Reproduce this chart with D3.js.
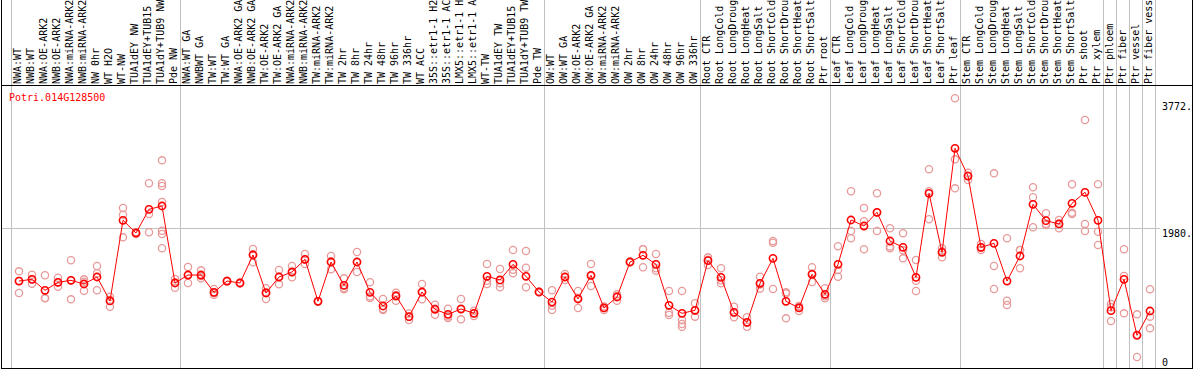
<!DOCTYPE html>
<html>
<head>
<meta charset="utf-8">
<script src="https://cdn.jsdelivr.net/npm/d3@7"></script>
<style>
  body { margin: 0; background: #fff; }
  svg text { font-family: "DejaVu Sans Mono", monospace; font-size: 10px; }
</style>
</head>
<body>
<div id="chart"></div>
<script>
// gene shown
const geneName = 'Potri.014G128500';

// sample labels (already cut to 14 chars like the original)
const labels = [
  'NWA:WT', 'NWB:WT', 'NWA:OE-ARK2', 'NWB:OE-ARK2', 'NWA:miRNA-ARK2', 'NWB:miRNA-ARK2',
  'NW 0hr', 'WT H2O', 'WT-NW', 'TUA1dEY NW', 'TUA1dEY+TUB15', 'TUA1dY+TUB9 NW', 'Pde NW',
  'NWA:WT GA', 'NWBWT GA', 'TW:WT', 'TW:WT GA', 'NWA:OE-ARK2 GA', 'NWB:OE-ARK2 GA',
  'TW:OE-ARK2', 'TW:OE-ARK2 GA', 'NWA:miRNA-ARK2', 'NWB:miRNA-ARK2', 'TW:miRNA-ARK2',
  'TW:miRNA-ARK2', 'TW 2hr', 'TW 8hr', 'TW 24hr', 'TW 48hr', 'TW 96hr', 'TW 336hr',
  'WT ACC', '35S::etr1-1 H2', '35S::etr1-1 AC', 'LMX5::etr1-1 H', 'LMX5::etr1-1 A',
  'WT-TW', 'TUA1dEY TW', 'TUA1dEY+TUB15', 'TUA1dY+TUB9 TW', 'Pde TW',
  'OW:WT', 'OW:WT GA', 'OW:OE-ARK2', 'OW:OE-ARK2 GA', 'OW:miRNA-ARK2', 'OW:miRNA-ARK2',
  'OW 2hr', 'OW 8hr', 'OW 24hr', 'OW 48hr', 'OW 96hr', 'OW 336hr',
  'Root CTR', 'Root LongCold', 'Root LongDroug', 'Root LongHeat', 'Root LongSalt',
  'Root ShortCold', 'Root ShortDrou', 'Root ShortHeat', 'Root ShortSalt', 'Ptr root',
  'Leaf CTR', 'Leaf LongCold', 'Leaf LongDroug', 'Leaf LongHeat', 'Leaf LongSalt',
  'Leaf ShortCold', 'Leaf ShortDrou', 'Leaf ShortHeat', 'Leaf ShortSalt', 'Ptr leaf',
  'Stem CTR', 'Stem LongCold', 'Stem LongDroug', 'Stem LongHeat', 'Stem LongSalt',
  'Stem ShortCold', 'Stem ShortDrou', 'Stem ShortHeat', 'Stem ShortSalt', 'Ptr shoot',
  'Ptr xylem', 'Ptr phloem', 'Ptr fiber', 'Ptr vessel', 'Ptr fiber vess'
];

// group separators (index of first sample after a break)
const groupBreaks = [0, 13, 41, 53, 63, 73, 84, 85, 86, 87, 88];

// mean expression per sample
const means = [
  1230, 1254, 1099, 1212, 1240, 1188, 1287, 948, 2089, 1909, 2244, 2291, 1202,
  1315, 1315, 1070, 1230, 1202, 1598, 1061, 1287, 1358, 1537, 943, 1499, 1169,
  1499, 1070, 877, 1018, 726, 1075, 830, 759, 834, 773, 1297, 1245, 1466, 1297, 1075,
  933, 1287, 976, 1311, 849, 1004, 1499, 1594, 1466, 887, 773, 816,
  1518, 1282, 787, 646, 1198, 1551, 943, 849, 1325, 1042,
  1466, 2093, 2008, 2202, 1796, 1707, 1282, 2471, 1636, 3107,
  2715, 1707, 1763, 1230, 1584, 2315, 2084, 2037, 2329, 2485, 2089,
  811, 1254, 462, 806
];

// replicate values per sample
const replicates = [
  [1367, 1230, 1061], [1320, 1193, 1254], [1311, 985, 990], [1277, 1150, 1212],
  [1523, 971, 1240], [1254, 1093, 1220], [1443, 1339, 1099], [1008, 867, 960],
  [2263, 2168, 1848], [1920, 1900, 1909], [2612, 2178, 1919],
  [2937, 2612, 2574, 2348, 1942, 1895, 1693], [1259, 1136, 1210],
  [1428, 1202, 1315], [1381, 1268, 1300], [1117, 1037, 1060], [1230, 1225, 1235],
  [1202, 1195, 1210], [1683, 1494, 1610], [1127, 976, 1070], [1386, 1183, 1290],
  [1443, 1282, 1350], [1612, 1471, 1530], [943, 940, 948], [1584, 1395, 1510],
  [1268, 1113, 1130], [1641, 1358, 1499], [1212, 990, 1010], [976, 820, 835],
  [1065, 952, 1030], [679, 726, 770], [1188, 971, 1070], [895, 754, 840],
  [839, 707, 730], [976, 688, 840], [735, 773, 810], [1471, 1235, 1188],
  [1400, 1141, 1200], [1669, 1339, 1390], [1655, 1419, 1141], [1075, 1070, 1080],
  [1099, 820, 880], [1329, 1287, 1245], [1089, 849, 990], [1471, 1160, 1300],
  [820, 849, 870], [952, 1042, 1015], [1499, 1495, 1505], [1679, 1424, 1680],
  [1612, 1376, 1410], [1089, 782, 750], [1089, 679, 622, 584], [915, 726, 810],
  [1565, 1457, 1530], [1410, 1198, 1240], [867, 717, 780], [717, 584, 640],
  [1291, 1122, 1180], [1796, 1772, 1117], [1070, 702, 1055], [877, 806, 865],
  [1424, 1216, 1335], [1127, 985, 1015], [1721, 1386, 1291], [2499, 1938, 1834],
  [2263, 2075, 1679], [2471, 1938, 2200], [1976, 1693, 1720], [1905, 1551, 1665],
  [1527, 1235, 1089], [2810, 2103, 2500], [1693, 1565, 1650], [3814, 2951, 2541],
  [2762, 2659, 2720], [1754, 1669, 1700], [2753, 1443, 1117], [1834, 952, 891],
  [1669, 1410, 1670], [2556, 2414, 1990], [2188, 2022, 2040], [2093, 1976, 2040],
  [2598, 2197, 2178], [3507, 2037, 1938], [2598, 1928, 1740], [905, 665, 860],
  [1679, 1301, 773], [759, 156, 470], [1113, 726, 561]
];

// y axis labels
const yTicks = [0, 1980, 3772];
const yTickLabels = ['0', '1980.', '3772.'];

function renderChart(container) {
    const width = 1194, height = 370;
    const headerBottom = 85, plotBottom = 368, rightEdge = 1192;

    const svg = d3.select(container)
        .append('svg')
        .attr('width', width)
        .attr('height', height);

    // one column per sample, 13px wide
    const x = d3.scaleLinear().domain([0, labels.length]).range([11, 11 + 13 * labels.length]);
    const cx = i => x(i) + 8;
    const y = d3.scaleLinear().domain([0, 1980]).range([plotBottom, 228]);

    // grey separators
    svg.selectAll('line.sep')
        .data(groupBreaks)
        .enter()
        .append('line')
        .attr('x1', d => x(d) + 0.5).attr('x2', d => x(d) + 0.5)
        .attr('y1', 0).attr('y2', plotBottom)
        .attr('stroke', '#c0c0c0');

    // horizontal grid at 1980
    svg.append('line')
        .attr('x1', 1).attr('x2', 1160)
        .attr('y1', Math.round(y(1980)) + 0.5).attr('y2', Math.round(y(1980)) + 0.5)
        .attr('stroke', '#c0c0c0');

    // frame
    svg.append('line').attr('x1', 1.5).attr('x2', 1.5).attr('y1', 0).attr('y2', plotBottom + 1).attr('stroke', '#000');
    svg.append('line').attr('x1', rightEdge + 0.5).attr('x2', rightEdge + 0.5).attr('y1', 0).attr('y2', plotBottom + 1).attr('stroke', '#000');
    svg.append('line').attr('x1', 1).attr('x2', rightEdge + 1).attr('y1', headerBottom + 0.5).attr('y2', headerBottom + 0.5).attr('stroke', '#000');
    svg.append('line').attr('x1', 1).attr('x2', rightEdge + 1).attr('y1', plotBottom + 0.5).attr('y2', plotBottom + 0.5).attr('stroke', '#000');

    // rotated sample labels
    svg.selectAll('text.lab')
        .data(labels)
        .enter()
        .append('text')
        .attr('transform', (d, i) => `translate(${x(i) + 9.5},84) rotate(-90)`)
        .attr('fill', '#000')
        .text(d => d);

    // gene name
    svg.append('text')
        .attr('x', 9).attr('y', 101)
        .attr('fill', '#ff0000')
        .text(geneName);

    // y labels on the right
    svg.selectAll('text.ytick')
        .data(yTicks)
        .enter()
        .append('text')
        .attr('x', 1162)
        .attr('y', d => d === 0 ? 366 : Math.round(y(d)) + 9)
        .attr('fill', '#000')
        .text((d, i) => yTickLabels[i]);

    // replicate circles
    const reps = [];
    replicates.forEach((r, i) => r.forEach(v => reps.push({ i, v })));
    svg.selectAll('circle.rep')
        .data(reps)
        .enter()
        .append('circle')
        .attr('cx', d => cx(d.i))
        .attr('cy', d => y(d.v))
        .attr('r', 3.6)
        .attr('fill', 'none')
        .attr('stroke', '#e89a9a')
        .attr('stroke-width', 1.3);

    // mean line
    const line = d3.line()
        .x((d, i) => cx(i))
        .y(d => y(d));
    svg.append('path')
        .datum(means)
        .attr('d', line)
        .attr('fill', 'none')
        .attr('stroke', '#ff0000')
        .attr('stroke-width', 1);

    // mean circles
    svg.selectAll('circle.mean')
        .data(means)
        .enter()
        .append('circle')
        .attr('cx', (d, i) => cx(i))
        .attr('cy', d => y(d))
        .attr('r', 3.6)
        .attr('fill', 'none')
        .attr('stroke', '#ff0000')
        .attr('stroke-width', 1.6);
}

document.addEventListener('DOMContentLoaded', function () {
    renderChart('#chart');
});
</script>
</body>
</html>
